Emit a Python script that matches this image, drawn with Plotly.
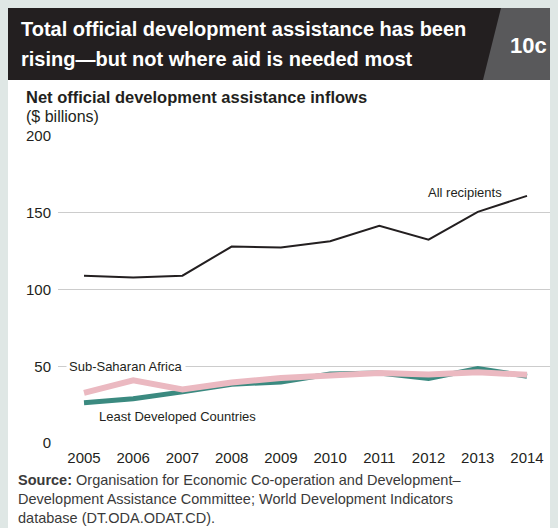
import plotly.graph_objects as go

years = [2005, 2006, 2007, 2008, 2009, 2010, 2011, 2012, 2013, 2014]
all_recipients = [109.0, 107.8, 109.0, 128.0, 127.3, 131.5, 141.5, 132.5, 150.6, 161.0]
least_developed = [26.2, 28.8, 33.3, 38.3, 39.8, 45.0, 45.6, 42.0, 48.5, 43.5]
sub_saharan = [32.7, 40.9, 34.9, 39.4, 42.4, 43.7, 45.6, 44.6, 46.1, 44.4]
y_ticks = [0, 50, 100, 150, 200]

# page body has an 8px margin; figure occupies the rest of the 558x528 window
OX, OY = 8, 8
W, H = 550, 520
L, R, T, B = 50, 6, 128, 85
PW, PH = W - L - R, H - T - B


def px(x):  # reference-window pixel x -> paper
    return (x - OX - L) / PW


def py(y):  # reference-window pixel y -> paper
    return (H - B - (y - OY)) / PH


SANS = "Liberation Sans, Arial, sans-serif"
DARK = "#231f20"
PXYR = 443 / 9  # pixels per year

fig = go.Figure()
fig.add_trace(go.Scatter(x=years, y=least_developed, mode="lines",
                         line=dict(color="#3b8a80", width=5), hoverinfo="skip"))
fig.add_trace(go.Scatter(x=years, y=sub_saharan, mode="lines",
                         line=dict(color="#ebb9c1", width=6), hoverinfo="skip"))
fig.add_trace(go.Scatter(x=years, y=all_recipients, mode="lines",
                         line=dict(color=DARK, width=2), hoverinfo="skip"))

x0 = 2005 - (84 - OX - L) / PXYR
x1 = 2014 + (W + OX - R - 527) / PXYR

fig.update_layout(
    width=W, height=H,
    margin=dict(l=L, r=R, t=T, b=B, pad=0),
    paper_bgcolor="white", plot_bgcolor="white",
    showlegend=False,
    xaxis=dict(range=[x0, x1], tickvals=years, showgrid=False, zeroline=False,
               showline=False, ticks="", ticklabelstandoff=4,
               tickfont=dict(family=SANS, size=15, color=DARK),
               fixedrange=True),
    yaxis=dict(range=[0, 200], tickvals=y_ticks, showgrid=True, gridcolor="#cccccc",
               gridwidth=1, zeroline=False, showline=False, ticks="",
               ticklabelstandoff=6,
               tickfont=dict(family=SANS, size=15, color=DARK), fixedrange=True),
)

shapes = [
    dict(type="rect", xref="paper", yref="paper", x0=px(8), x1=px(502), y0=py(80), y1=py(8),
         fillcolor=DARK, line=dict(width=0), layer="above"),
    dict(type="path", xref="paper", yref="paper",
         path=f"M {px(501)},{py(8)} L {px(558)},{py(8)} L {px(558)},{py(80)} L {px(483)},{py(80)} Z",
         fillcolor="#59595b", line=dict(width=0), layer="above"),
]
fig.update_layout(shapes=shapes)

ann = []
ann.append(dict(text="<b>Total official development assistance has been</b>", x=px(19), y=py(29),
                xref="paper", yref="paper", xanchor="left", yanchor="middle", showarrow=False,
                font=dict(family=SANS, size=20, color="white")))
ann.append(dict(text="<b>rising—but not where aid is needed most</b>", x=px(19), y=py(59),
                xref="paper", yref="paper", xanchor="left", yanchor="middle", showarrow=False,
                font=dict(family=SANS, size=20, color="white")))
ann.append(dict(text="<b>10c</b>", x=px(528), y=py(45), xref="paper", yref="paper",
                xanchor="center", yanchor="middle", showarrow=False,
                font=dict(family=SANS, size=22, color="white")))
ann.append(dict(text="<b>Net official development assistance inflows</b>", x=px(24), y=py(97),
                xref="paper", yref="paper", xanchor="left", yanchor="middle", showarrow=False,
                font=dict(family=SANS, size=16.5, color=DARK)))
ann.append(dict(text="($ billions)", x=px(24), y=py(116),
                xref="paper", yref="paper", xanchor="left", yanchor="middle", showarrow=False,
                font=dict(family=SANS, size=16, color=DARK)))
ann.append(dict(text="All recipients", x=2014 - 23 / PXYR, y=163,
                xref="x", yref="y", xanchor="right", yanchor="middle", showarrow=False,
                font=dict(family=SANS, size=13, color=DARK)))
ann.append(dict(text="Sub-Saharan Africa", x=2005 - 18 / PXYR, y=50,
                xref="x", yref="y", xanchor="left", yanchor="middle", showarrow=False,
                bgcolor="white", borderpad=2,
                font=dict(family=SANS, size=13, color=DARK)))
ann.append(dict(text="Least Developed Countries", x=2005 + 13 / PXYR, y=17.5,
                xref="x", yref="y", xanchor="left", yanchor="middle", showarrow=False,
                font=dict(family=SANS, size=13, color=DARK)))
ann.append(dict(text="<b>Source:</b> Organisation for Economic Co-operation and Development–<br>"
                     "Development Assistance Committee; World Development Indicators<br>"
                     "database (DT.ODA.ODAT.CD).",
                x=px(16), y=py(470), xref="paper", yref="paper", xanchor="left", yanchor="top",
                align="left", showarrow=False,
                font=dict(family=SANS, size=14.5, color="#3a3a3a")))
fig.update_layout(annotations=ann)

fig.write_html("out.html", post_script="document.body.style.background='#dfe7e5';")
